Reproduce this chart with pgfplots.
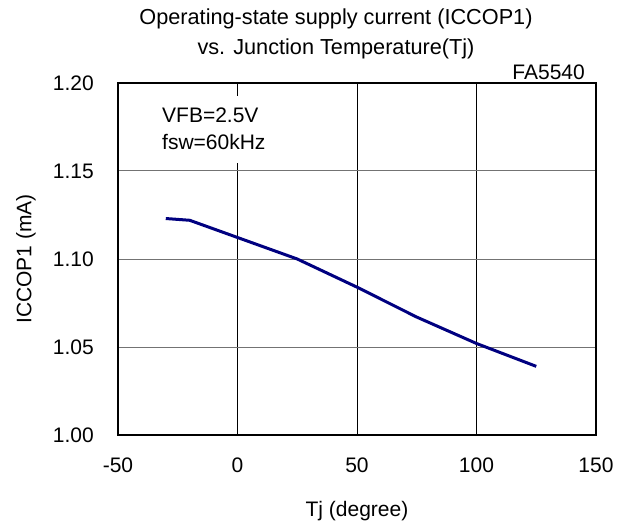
\documentclass[border=0pt]{standalone}
\usepackage{pgfplots}
\pgfplotsset{compat=1.18}
\usepackage{fontspec}
\setmainfont{Liberation Sans}
\definecolor{curve}{RGB}{0,0,128}
\begin{document}
\fontsize{21bp}{25bp}\selectfont
\begin{tikzpicture}
\useasboundingbox (-118bp,-86bp) rectangle (510bp,435bp);
\begin{axis}[
  at={(0,0)}, anchor=south west,
  scale only axis, width=478bp, height=352bp,
  xmin=-50, xmax=150, ymin=1.0, ymax=1.2,
  xtick={-50,0,50,100,150},
  ytick={1.00,1.05,1.10,1.15,1.20},
  /pgf/number format/assume math mode=true,
  major tick length=0pt,
  xmajorgrids, ymajorgrids,
  x grid style={black, line width=0.8bp},
  y grid style={gray!90!black, line width=1bp},
  axis line style={black, line width=1.5bp},
  tick label style={font=\fontsize{21bp}{25bp}\selectfont},
  label style={font=\fontsize{21bp}{25bp}\selectfont},
  xticklabel style={yshift=-16bp},
  yticklabel style={xshift=-17bp, /pgf/number format/.cd, fixed, fixed zerofill, precision=2},
  xlabel={Tj (degree)},
  ylabel={ICCOP1 (mA)},
  xlabel style={yshift=-14bp},
  ylabel style={yshift=3bp},
  clip=false,
]
\addplot[curve, line width=3bp] coordinates {
  (-30,1.123) (-20,1.122) (25,1.100) (50,1.084) (75,1.067) (100,1.052) (125,1.039)
};
\end{axis}
\node[anchor=base, font=\fontsize{21.7bp}{25bp}\selectfont] at (218bp,410bp) {Operating-state supply current (ICCOP1)};
\node[anchor=base, font=\fontsize{21.7bp}{25bp}\selectfont] at (218bp,380bp) {vs. Junction Temperature(Tj)};
\node[anchor=base east, inner sep=0pt] at (467bp,355bp) {FA5540};
\fill[white] (30bp,272bp) rectangle (160bp,339bp);
\node[anchor=base west, inner sep=0pt] at (44bp,312bp) {VFB=2.5V};
\node[anchor=base west, inner sep=0pt] at (44bp,285bp) {fsw=60kHz};
\end{tikzpicture}
\end{document}
